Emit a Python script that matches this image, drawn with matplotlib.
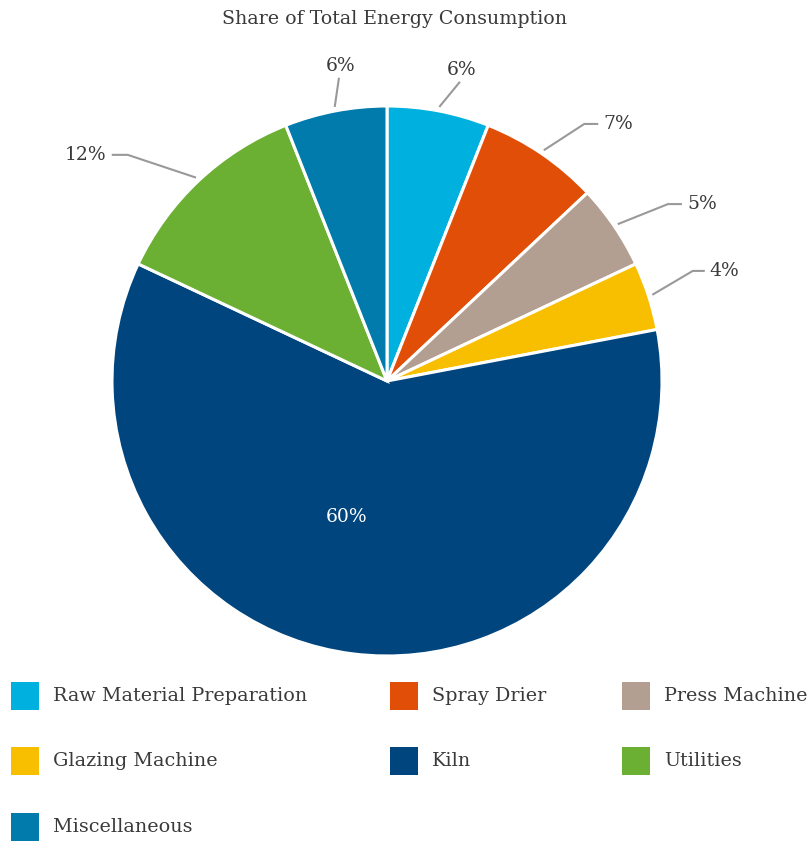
import numpy as np
import matplotlib
matplotlib.use("Agg")
import matplotlib.pyplot as plt
from matplotlib.patches import Rectangle

plt.rcParams['font.family'] = ['DejaVu Serif']

# energy share by process
sections = ['Raw Material Preparation', 'Spray Drier', 'Press Machine',
            'Glazing Machine', 'Kiln', 'Utilities', 'Miscellaneous']
shares = [6, 7, 5, 4, 60, 12, 6]
colors = ['#00b0de', '#e04e08', '#b29f92', '#f8be00', '#00457e', '#6cb033', '#007bab']

# leader line layout: extra reach past the rim, angle nudge (deg), tail length (px)
reach = [33, 49, 57, 50, 0, 69, 32]
nudge = [2.9, 3.3, 2.0, -1.8, 0, -5.7, 1.8]
tail = [0, 14, 14, 12, 0, 16, 0]

W, H = 810, 843
fig = plt.figure(figsize=(W / 100, H / 100), dpi=100)
ax = fig.add_axes([0, 0, 1, 1])

cx, cy, r = 387, H - 381, 275
wedges, _ = ax.pie(shares, colors=colors, startangle=90, counterclock=False,
                   radius=r, center=(cx, cy),
                   wedgeprops=dict(edgecolor='white', linewidth=2.2))
ax.set_xlim(0, W)
ax.set_ylim(0, H)
ax.set_aspect('auto')
ax.axis('off')

txt = '#3a3a3a'
ax.text(394, H - 19, 'Share of Total Energy Consumption', ha='center', va='center',
        fontsize=13.7, color=txt)

total = sum(shares)
cum = np.cumsum([0] + shares)
for i, v in enumerate(shares):
    mid = (cum[i] + v / 2) / total * 360  # clockwise from top
    lab = f'{v}%'
    if sections[i] == 'Kiln':
        a = np.radians(mid + 9.2)
        ax.text(cx + 0.516 * r * np.sin(a), cy + 0.516 * r * np.cos(a), lab,
                ha='center', va='center', fontsize=13.5, color='white')
        continue
    a0 = np.radians(mid)
    x0, y0 = cx + (r + 4) * np.sin(a0), cy + (r + 4) * np.cos(a0)
    a1 = np.radians(mid + nudge[i])
    x1, y1 = cx + (r + reach[i]) * np.sin(a1), cy + (r + reach[i]) * np.cos(a1)
    side = 1 if np.sin(a1) > 0 else -1
    x2 = x1 + side * tail[i]
    ax.plot([x0, x1, x2], [y0, y1, y1], color='#999999', lw=1.5,
            solid_capstyle='butt', clip_on=False)
    if tail[i] == 0:
        ax.text(x1 + 2, y1 + 12, lab, ha='center', va='center', fontsize=13.5, color=txt)
    else:
        ax.text(x2 + side * 5, y1, lab, ha='left' if side > 0 else 'right',
                va='center', fontsize=13.5, color=txt)

# legend grid
col_x = [11, 390, 622]
row_y = [696, 761, 827]
for i, name in enumerate(sections):
    x = col_x[i % 3]
    y = H - row_y[i // 3]
    ax.add_patch(Rectangle((x, y - 14), 28, 28, color=colors[i], lw=0))
    ax.text(x + 42, y, name, ha='left', va='center', fontsize=13.8, color=txt)

fig.savefig('out.png', dpi=100)
